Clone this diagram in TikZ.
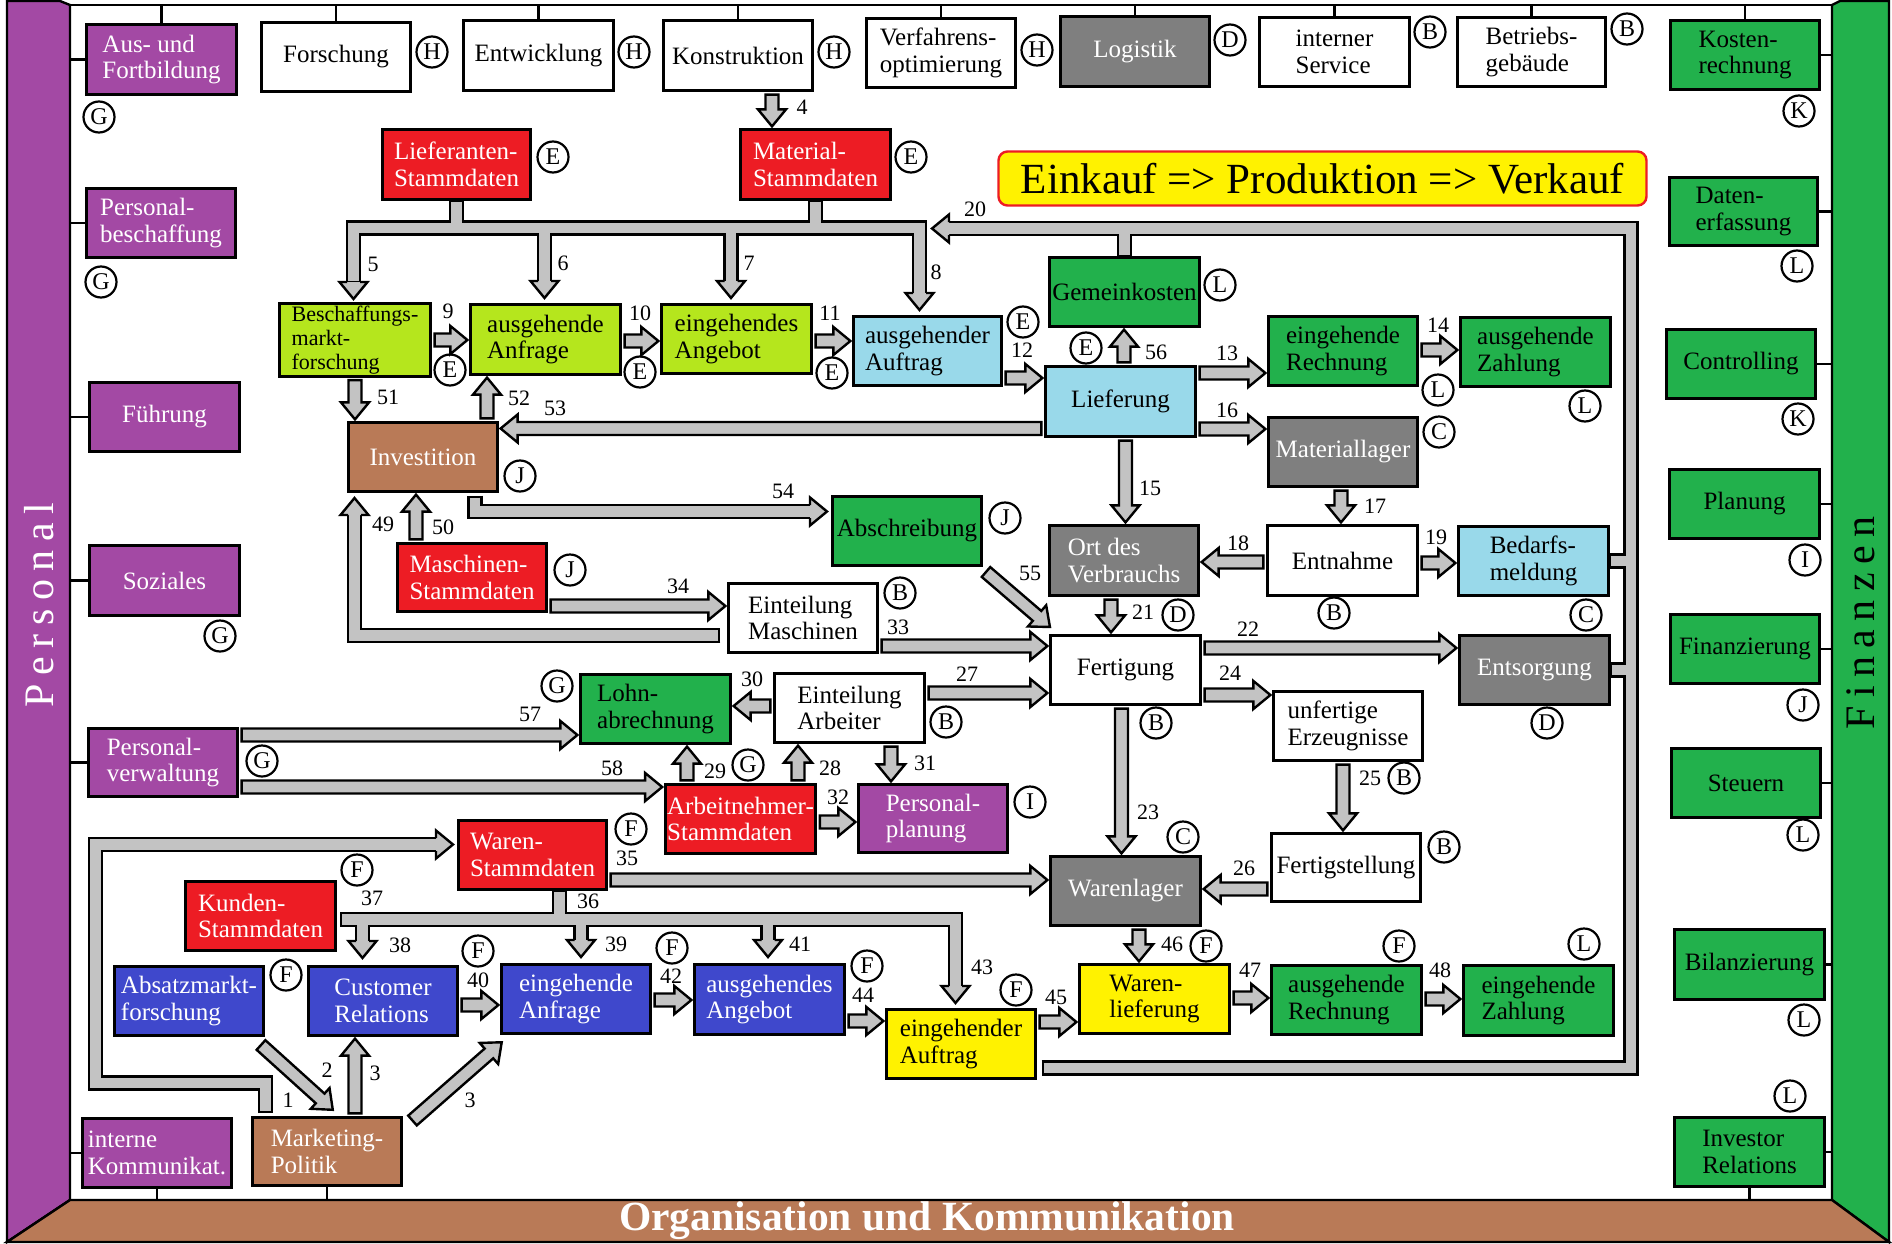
\documentclass[tikz,border=0pt]{standalone}
\usepackage{fontspec}
\setmainfont{Liberation Serif}
\usetikzlibrary{calc}
\definecolor{cpurple}{HTML}{A349A4}
\definecolor{cred}{HTML}{ED1C24}
\definecolor{clime}{HTML}{B5E61D}
\definecolor{clblue}{HTML}{99D9EA}
\definecolor{cgreen}{HTML}{22B14C}
\definecolor{cdgray}{HTML}{7F7F7F}
\definecolor{cbrown}{HTML}{B97A57}
\definecolor{cblue}{HTML}{3F48CC}
\definecolor{cyellow}{HTML}{FFF200}
\definecolor{agray}{HTML}{C3C3C3}
\pgfdeclarelayer{back}\pgfdeclarelayer{bg}
\pgfsetlayers{back,bg,main}
\newcommand\fs[2]{\fontsize{#1}{#2}\selectfont}
\newcommand\spc{\kern8.5pt}
\tikzset{
 box/.style={draw=black,line width=2.8pt,inner sep=2pt,outer sep=0pt,align=left,font=\fs{25}{26.5}},
 pu/.style={fill=cpurple,text=white},
 rd/.style={fill=cred,text=white},
 li/.style={fill=clime},
 lb/.style={fill=clblue},
 gr/.style={fill=cgreen},
 dg/.style={fill=cdgray,text=white},
 br/.style={fill=cbrown,text=white},
 bl/.style={fill=cblue,text=white},
 ye/.style={fill=cyellow},
 wh/.style={fill=white},
 arr/.style={draw=black,fill=agray,line width=2.4pt,line join=miter,miter limit=10},
 barB/.style={draw=black,line width=15.4pt,line join=miter},
 barG/.style={draw=agray,line width=10.6pt,line join=miter,shorten <=2pt},
 circ/.style={circle,draw=black,line width=2.2pt,minimum size=31pt,inner sep=0pt,font=\fs{24}{24}},
 num/.style={inner sep=0pt,font=\fs{22}{22}},
 stub/.style={draw=black,line width=2.4pt},
}
\newcommand\bx[7]{%
 \pgfmathsetmacro\bxw{#4-#2-2.8}%
 \pgfmathsetmacro\bxh{#5-#3-2.8}%
 \pgfmathsetmacro\bxx{(#2+#4)/2}%
 \pgfmathsetmacro\bxy{(#3+#5)/2}%
 \node[box,#6,minimum width=\bxw pt,minimum height=\bxh pt] (#1) at (\bxx,\bxy) {#7};}
\newcounter{cc}
\newcommand\cl[3]{\stepcounter{cc}\node[circ] (circ\thecc) at (#2,#3) {#1};}
\newcounter{nc}
\newcommand\nm[3]{\stepcounter{nc}\node[num] (num\thenc) at (#2,#3) {#1};}
\newcommand\barrow[2]{%
 \filldraw[arr] let \p1=#1, \p2=#2, \n1={atan2(\y2-\y1,\x2-\x1)}, \n2={veclen(\x2-\x1,\y2-\y1)} in
  [shift={(\p1)},rotate=\n1] (0pt,-6.5pt) -- ({\n2-17pt},-6.5pt) -- ({\n2-17pt},-14pt) -- ({\n2+0pt},0pt) -- ({\n2-17pt},14pt) -- ({\n2-17pt},6.5pt) -- (0pt,6.5pt) -- cycle;}
\newcommand\ahead[2]{%
 \filldraw[arr] let \p1=#1, \p2=#2, \n1={atan2(\y2-\y1,\x2-\x1)} in
  [shift={(\p2)},rotate=\n1] (-17pt,6.5pt) -- (-17pt,14pt) -- (0pt,0pt) -- (-17pt,-14pt) -- (-17pt,-6.5pt);}
\newcommand\arrR[3]{\barrow{($(#1.east|-0,#3)+(4,0)$)}{($(#2.west|-0,#3)+(-3,0)$)}}
\newcommand\arrL[3]{\barrow{($(#1.west|-0,#3)+(-4,0)$)}{($(#2.east|-0,#3)+(3,0)$)}}
\newcommand\arrD[3]{\barrow{($(#1.south-|#3,0)+(0,4)$)}{($(#2.north-|#3,0)+(0,-3)$)}}
\newcommand\arrU[3]{\barrow{($(#1.north-|#3,0)+(0,-4)$)}{($(#2.south-|#3,0)+(0,3)$)}}
% composite bar shapes
\newcommand\treeA[1]{%
 \draw[#1] (liefst.south) -- (liefst.south|-0,228);
 \draw[#1] (matst.south) -- (matst.south|-0,228);
 \draw[#1] (353.5,283) -- (353.5,228) -- (919.5,228) -- (919.5,294);
 \draw[#1] (544.5,228) -- (544.5,282);
 \draw[#1] (731,228) -- (731,282);}
\newcommand\loopT[1]{%
 \draw[#1] ($(einauf.east|-0,1068)+(6,0)$) -- (1631,1068) -- (1631,228.5) -- (948,228.5);
 \draw[#1] (gemk.north) -- (gemk.north|-0,228.5);
 \draw[#1] (bedarf.east) -- (bedarf.east-|1631,0);
 \draw[#1] (entsorg.east) -- (entsorg.east-|1631,0);}
\newcommand\loopO[1]{%
 \draw[#1] (265.5,1113) -- (265.5,1083) -- (95.5,1083) -- (95.5,844.5) -- (437,844.5);}
\newcommand\elbowA[1]{%
 \draw[#1] ($(eintm.west|-0,635.5)+(-8,0)$) -- (354.5,635.5) -- (354.5,514);}
\newcommand\elbowB[1]{%
 \draw[#1] ($(invest.south-|475,0)+(0,4)$) -- (475,511.5) -- (811,511.5);}
\newcommand\treeB[1]{%
 \draw[#1] (warst.south-|559.5,0) -- (559.5,919.5);
 \draw[#1] (340,919.5) -- (955.5,919.5) -- (955.5,987);
 \draw[#1] (362.5,919.5) -- (362.5,942);
 \draw[#1] (581,919.5) -- (581,941);
 \draw[#1] (768,919.5) -- (768,941);}
\begin{document}
\begin{tikzpicture}[x=1pt,y=-1pt]
\useasboundingbox (0,0) rectangle (1892,1244);
\begin{pgfonlayer}{back}
 \fill[white] (0,0) rectangle (1892,1244);
 \filldraw[fill=white,draw=black,line width=2.4pt] (70,5) rectangle (1832,1200);
 \filldraw[fill=cpurple,draw=black,line width=2.4pt] (7,1) -- (60,1) -- (70,5) -- (70,1200) -- (7,1242) -- cycle;
 \filldraw[fill=cgreen,draw=black,line width=2.4pt] (1889,1) -- (1840,1) -- (1832,5) -- (1832,1200) -- (1889,1242) -- cycle;
 \filldraw[fill=cbrown,draw=black,line width=2.4pt] (7,1242) -- (70,1200) -- (1832,1200) -- (1889,1242) -- cycle;
\end{pgfonlayer}
\node[rotate=90,text=white,font=\fs{42}{42},inner sep=0pt] (personal) at (39,605) {P\spc e\spc r\spc s\spc o\spc n\spc a\spc l};
\node[rotate=90,text=black,font=\fs{42}{42},inner sep=0pt] (finanzen) at (1861,623) {F\spc i\spc n\spc a\spc n\spc z\spc e\spc n};
\node[text=white,font=\bfseries\fs{41.5}{41.5},inner sep=0pt] (orgkom) at (927,1221) {Organisation und Kommunikation};
% top row
\bx{ausf}{85}{23}{238}{96}{pu}{Aus- und\\Fortbildung}
\bx{forsch}{260}{21}{412}{93}{wh}{Forschung}
\bx{entw}{462}{19}{615}{92}{wh}{Entwicklung}
\bx{konst}{662}{19}{814}{92}{wh}{Konstruktion}
\bx{verf}{865}{17}{1017}{89}{wh}{Verfahrens-\\optimierung}
\bx{logi}{1059}{15}{1211}{88}{dg}{Logistik}
\bx{intserv}{1258}{16}{1411}{88}{wh}{interner\\Service}
\bx{betr}{1456}{16}{1607}{88}{wh}{Betriebs-\\gebäude}
\bx{kost}{1669}{19}{1821}{91}{gr}{Kosten-\\rechnung}
% left column
\bx{pbesch}{85}{187}{237}{259}{pu}{Personal-\\beschaffung}
\bx{fuehr}{88}{381}{241}{453}{pu}{Führung}
\bx{soz}{88}{544}{241}{617}{pu}{Soziales}
\bx{pverw}{87}{727}{239}{798}{pu}{Personal-\\verwaltung}
\bx{intkom}{81}{1117}{233}{1189}{pu}{interne\\Kommunikat.}
% right column
\bx{daten}{1668}{176}{1819}{247}{gr}{Daten-\\erfassung}
\bx{contr}{1665}{328}{1817}{400}{gr}{Controlling}
\bx{plan}{1668}{468}{1821}{540}{gr}{Planung}
\bx{finz}{1669}{613}{1821}{685}{gr}{Finanzierung}
\bx{steu}{1670}{747}{1822}{819}{gr}{Steuern}
\bx{bilanz}{1673}{928}{1826}{1001}{gr}{Bilanzierung}
\bx{invrel}{1673}{1116}{1826}{1188}{gr}{Investor\\Relations}
% middle
\bx{liefst}{381}{128}{532}{201}{rd}{Lieferanten-\\Stammdaten}
\bx{matst}{739}{128}{892}{201}{rd}{Material-\\Stammdaten}
\node[draw=cred,fill=cyellow,line width=2.4pt,rounded corners=9pt,minimum width=648pt,minimum height=54pt,font=\fs{43}{43},inner sep=0pt] (title) at (1322.5,178.5) {Einkauf => Produktion => Verkauf};
\bx{bmf}{278}{303}{432}{377}{li,font=\fs{22}{24}}{Beschaffungs-\\markt-\\forschung}
\bx{ausanf}{469}{303}{622}{376}{li}{ausgehende\\Anfrage}
\bx{eingang}{660}{303}{813}{375}{li}{eingehendes\\Angebot}
\bx{ausauf}{852}{315}{1003}{387}{lb}{ausgehender\\Auftrag}
\bx{gemk}{1048}{256}{1201}{328}{gr}{Gemeinkosten}
\bx{liefg}{1044}{365}{1197}{438}{lb}{Lieferung}
\bx{eingrech}{1267}{315}{1419}{387}{gr}{eingehende\\Rechnung}
\bx{auszahl}{1459}{316}{1612}{388}{gr}{ausgehende\\Zahlung}
\bx{invest}{347}{421}{499}{493}{br}{Investition}
\bx{matlag}{1267}{416}{1419}{488}{dg}{Materiallager}
\bx{abschr}{831}{495}{983}{567}{gr}{Abschreibung}
\bx{ort}{1048}{524}{1200}{597}{dg}{Ort des\\Verbrauchs}
\bx{entn}{1266}{524}{1419}{597}{wh}{Entnahme}
\bx{bedarf}{1457}{525}{1610}{597}{lb}{Bedarfs-\\meldung}
\bx{maschst}{396}{542}{548}{613}{rd}{Maschinen-\\Stammdaten}
\bx{eintm}{727}{582}{879}{654}{wh}{Einteilung\\Maschinen}
\bx{fert}{1049}{634}{1202}{706}{wh}{Fertigung}
\bx{entsorg}{1458}{634}{1611}{706}{dg}{Entsorgung}
\bx{lohn}{579}{673}{732}{745}{gr}{Lohn-\\abrechnung}
\bx{einta}{773}{672}{926}{744}{wh}{Einteilung\\Arbeiter}
\bx{unfert}{1272}{690}{1424}{762}{wh}{unfertige\\Erzeugnisse}
\bx{arbst}{664}{783}{817}{855}{rd}{Arbeitnehmer-\\Stammdaten}
\bx{pplan}{857}{783}{1009}{854}{pu}{Personal-\\planung}
\bx{warst}{457}{819}{608}{891}{rd}{Waren-\\Stammdaten}
\bx{fertst}{1270}{832}{1422}{903}{wh}{Fertigstellung}
\bx{warlag}{1049}{855}{1202}{927}{dg}{Warenlager}
\bx{kundst}{184}{880}{337}{952}{rd}{Kunden-\\Stammdaten}
\bx{absatz}{113}{965}{265}{1037}{bl}{Absatzmarkt-\\forschung}
\bx{custrel}{307}{965}{459}{1037}{bl}{Customer\\Relations}
\bx{einanf}{500}{963}{652}{1035}{bl}{eingehende\\Anfrage}
\bx{ausang}{693}{963}{846}{1036}{bl}{ausgehendes\\Angebot}
\bx{warlief}{1078}{963}{1231}{1035}{ye}{Waren-\\lieferung}
\bx{ausrech}{1270}{964}{1423}{1036}{gr}{ausgehende\\Rechnung}
\bx{einzahl}{1462}{964}{1615}{1037}{gr}{eingehende\\Zahlung}
\bx{einauf}{885}{1008}{1037}{1080}{ye}{eingehender\\Auftrag}
\bx{mkt}{251}{1116}{403}{1187}{br}{Marketing-\\Politik}
% stubs to the frame
\begin{pgfonlayer}{back}
 \foreach \n in {ausf,forsch,entw,konst,verf,logi,intserv,betr,kost}{\draw[stub] (\n.north) -- (\n.north|-0,5);}
 \foreach \n in {ausf,pbesch,fuehr,soz,pverw,intkom}{\draw[stub] (\n.west) -- (\n.west-|70,0);}
 \foreach \n in {kost,daten,contr,plan,finz,steu,bilanz,invrel}{\draw[stub] (\n.east) -- (\n.east-|1832,0);}
 \foreach \n in {intkom,mkt,invrel}{\draw[stub] (\n.south) -- (\n.south|-0,1200);}
\end{pgfonlayer}
% composite bars
\begin{pgfonlayer}{bg}
 \treeA{barB}\loopT{barB}\loopO{barB}\elbowA{barB}\elbowB{barB}\treeB{barB}
 \treeA{barG}\loopT{barG}\loopO{barG}\elbowA{barG}\elbowB{barG}\treeB{barG}
 \ahead{(353.5,280)}{(353.5,299)}
 \ahead{(544.5,280)}{(544.5,298)}
 \ahead{(731,280)}{(731,298)}
 \ahead{(919.5,290)}{(919.5,310)}
 \ahead{(950,228.5)}{(932,228.5)}
 \ahead{(430,844.5)}{(453,844.5)}
 \ahead{(354.5,520)}{(354.5,498)}
 \ahead{(800,511.5)}{(827,511.5)}
 \ahead{(955.5,980)}{(955.5,1003)}
 \ahead{(362.5,940)}{(362.5,958)}
 \ahead{(581,940)}{(581,957)}
 \ahead{(768,940)}{(768,957)}
\end{pgfonlayer}
% straight block arrows
\arrR{bmf}{ausanf}{340}
\arrR{ausanf}{eingang}{341}
\arrR{eingang}{ausauf}{341}
\arrR{ausauf}{liefg}{378}
\arrR{liefg}{eingrech}{373}
\arrR{eingrech}{auszahl}{350}
\arrR{liefg}{matlag}{429}
\arrL{entn}{ort}{562}
\arrR{entn}{bedarf}{563}
\arrR{fert}{entsorg}{648}
\arrR{fert}{unfert}{695}
\arrL{fertst}{warlag}{889}
\arrR{einta}{fert}{693}
\arrL{einta}{lohn}{706}
\arrR{arbst}{pplan}{822}
\arrR{eintm}{fert}{646}
\arrR{maschst}{eintm}{606}
\arrR{warst}{warlag}{880}
\arrR{custrel}{einanf}{1005}
\arrR{einanf}{ausang}{1000}
\arrR{ausang}{einauf}{1021}
\arrR{einauf}{warlief}{1022}
\arrR{warlief}{ausrech}{998}
\arrR{ausrech}{einzahl}{999}
\arrL{liefg}{invest}{428.5}
\arrR{pverw}{lohn}{735}
\arrR{pverw}{arbst}{787}
\arrD{konst}{matst}{772}
\arrD{bmf}{invest}{355}
\arrU{invest}{ausanf}{487}
\arrU{maschst}{invest}{416}
\arrU{liefg}{gemk}{1124}
\arrD{liefg}{ort}{1125.5}
\arrD{matlag}{entn}{1341}
\arrD{ort}{fert}{1111}
\arrD{fert}{warlag}{1121.5}
\arrD{unfert}{fertst}{1343}
\arrU{arbst}{lohn}{687}
\arrU{arbst}{einta}{798}
\arrD{einta}{pplan}{891}
\arrU{mkt}{custrel}{355}
\arrD{warlag}{warlief}{1139}
\barrow{($(abschr.south east)+(4.4,6.4)$)}{($(fert.north west)+(-0.4,-8.4)$)}
\barrow{($(absatz.south east)+(-2.6,9.4)$)}{($(mkt.north west)+(80.6,-7.4)$)}
\barrow{($(mkt.north east)+(10.9,3.1)$)}{($(einanf.south west)+(0.6,8.4)$)}
% circled letters
\cl{G}{99}{117}\cl{H}{432}{52}\cl{H}{634}{52}\cl{H}{834}{52}\cl{H}{1037}{50}
\cl{D}{1230}{40}\cl{B}{1430}{32}\cl{B}{1627}{29}\cl{K}{1799}{111}
\cl{E}{553}{157}\cl{E}{911}{157}\cl{G}{101}{282}\cl{L}{1797}{266}
\cl{E}{450}{370}\cl{E}{640}{372}\cl{E}{832}{373}\cl{E}{1023}{322}\cl{L}{1220}{285}
\cl{E}{1086}{348}\cl{L}{1438}{390}\cl{L}{1585}{406}\cl{K}{1798}{419}
\cl{J}{520}{476}\cl{J}{1005}{518}\cl{J}{570}{570}\cl{C}{1439}{432}
\cl{B}{900}{593}\cl{B}{1334}{613}\cl{D}{1178}{615}\cl{C}{1586}{615}\cl{I}{1805}{560}
\cl{G}{220}{636}\cl{G}{557}{686}\cl{J}{1803}{705}\cl{B}{1156}{723}\cl{B}{946}{722}
\cl{D}{1547}{723}\cl{G}{262}{761}\cl{G}{748}{765}\cl{B}{1404}{778}\cl{I}{1030}{802}
\cl{L}{1803}{835}\cl{C}{1183}{837}\cl{B}{1444}{847}\cl{F}{631}{829}\cl{F}{357}{870}
\cl{F}{286}{975}\cl{F}{478}{951}\cl{F}{672}{948}\cl{F}{867}{966}\cl{F}{1016}{990}
\cl{F}{1206}{946}\cl{F}{1399}{946}\cl{L}{1584}{944}\cl{L}{1804}{1020}\cl{L}{1790}{1096}
% numbers
\nm{4}{802}{107}\nm{5}{373}{264}\nm{6}{563}{263}\nm{7}{749}{263}\nm{8}{936}{272}
\nm{9}{448}{311}\nm{10}{640}{313}\nm{11}{830}{313}\nm{12}{1022}{350}\nm{13}{1227}{353}
\nm{14}{1438}{325}\nm{15}{1150}{488}\nm{16}{1227}{410}\nm{17}{1375}{506}\nm{18}{1238}{543}
\nm{19}{1436}{537}\nm{20}{975}{209}\nm{21}{1143}{612}\nm{22}{1248}{629}\nm{23}{1148}{812}
\nm{24}{1230}{673}\nm{25}{1370}{778}\nm{26}{1244}{868}\nm{27}{967}{674}\nm{28}{830}{768}
\nm{29}{715}{771}\nm{30}{752}{679}\nm{31}{925}{763}\nm{32}{838}{797}\nm{33}{898}{627}
\nm{34}{678}{586}\nm{35}{627}{858}\nm{36}{588}{901}\nm{37}{372}{898}\nm{38}{400}{945}
\nm{39}{616}{944}\nm{40}{478}{980}\nm{41}{800}{944}\nm{42}{671}{976}\nm{43}{982}{967}
\nm{44}{863}{995}\nm{45}{1056}{997}\nm{46}{1172}{944}\nm{47}{1250}{970}\nm{48}{1440}{970}
\nm{49}{383}{524}\nm{50}{443}{527}\nm{51}{388}{397}\nm{52}{519}{398}\nm{53}{555}{408}
\nm{54}{783}{491}\nm{55}{1030}{573}\nm{56}{1156}{352}\nm{57}{530}{714}\nm{58}{612}{768}
\nm{1}{288}{1100}\nm{2}{327}{1070}\nm{3}{375}{1073}\nm{3}{470}{1100}
\end{tikzpicture}
\end{document}
